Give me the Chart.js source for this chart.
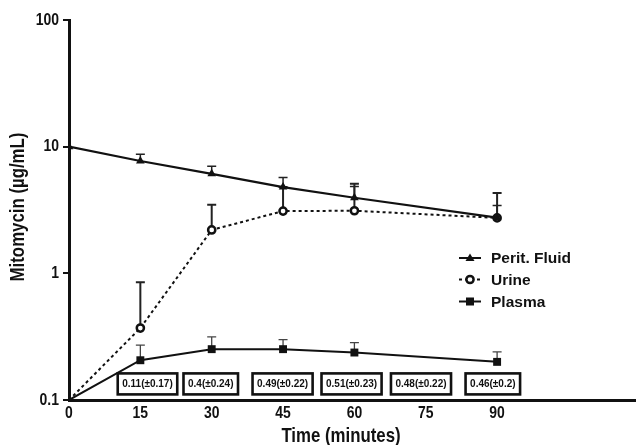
<!DOCTYPE html>
<html><head><meta charset="utf-8">
<script src="https://cdn.jsdelivr.net/npm/chart.js@4.4.1/dist/chart.umd.min.js"></script>
<style>html,body{margin:0;padding:0;background:#fff;overflow:hidden}</style>
</head><body>
<canvas id="c" width="636" height="445"></canvas>
<script>
// ---- data ----
const times = [0, 15, 30, 45, 60, 90];
const peritFluid = [10, 7.7, 6.1, 4.8, 3.95, 2.75];
const peritFluidUpper = [null, 8.7, 7.0, 5.7, 4.85, 3.43];
const urine = [0.1, 0.37, 2.2, 3.1, 3.12, 2.74];
const urineUpper = [null, 0.85, 3.48, 4.8, 5.1, 4.3];
const plasma = [0.1, 0.206, 0.252, 0.252, 0.237, 0.2];
const plasmaUpper = [null, 0.271, 0.315, 0.30, 0.284, 0.24];
const xTicks = [0, 15, 30, 45, 60, 75, 90];
const yTicks = [0.1, 1, 10, 100];
const boxLabels = ['0.11(\u00b10.17)', '0.4(\u00b10.24)', '0.49(\u00b10.22)', '0.51(\u00b10.23)', '0.48(\u00b10.22)', '0.46(\u00b10.2)'];
const boxTimes = [16.5, 29.8, 44.9, 59.4, 74, 89.1];
const boxLevel = 0.134;
const seriesNames = ['Perit. Fluid', 'Urine', 'Plasma'];
const xTitle = 'Time (minutes)';
const yTitle = 'Mitomycin (\u00b5g/mL)';

const INK = '#111';
const SANS = '"Liberation Sans", Arial, sans-serif';
const NARROW_X = 0.82; // horizontal squeeze to mimic the condensed face
const pts = arr => times.map((t, i) => ({x: t, y: arr[i]}));
const hideFirst = r => (ctx => ctx.dataIndex === 0 ? 0 : r);

function narrowText(ctx, text, x, y, size, align) {
  ctx.save();
  ctx.font = 'bold ' + size + 'px ' + SANS;
  ctx.textBaseline = 'middle';
  ctx.textAlign = align;
  ctx.translate(x, y);
  ctx.scale(NARROW_X, 1);
  ctx.fillStyle = INK;
  ctx.fillText(text, 0, 0);
  ctx.restore();
}

const errorBars = {
  id: 'errorBars',
  beforeDatasetsDraw(chart) {
    const ctx = chart.ctx, ys = chart.scales.y;
    chart.data.datasets.forEach((ds, i) => {
      const meta = chart.getDatasetMeta(i);
      ctx.save();
      ctx.strokeStyle = ds.errColor; ctx.lineWidth = ds.errWidth;
      meta.data.forEach((p, j) => {
        const up = ds.errUpper[j];
        if (up == null) return;
        const yt = ys.getPixelForValue(up);
        ctx.beginPath();
        ctx.moveTo(p.x, p.y); ctx.lineTo(p.x, yt);
        ctx.moveTo(p.x - 4.5, yt); ctx.lineTo(p.x + 4.5, yt);
        ctx.stroke();
      });
      ctx.restore();
    });
  }
};

const boxes = {
  id: 'boxes',
  afterDatasetsDraw(chart) {
    const ctx = chart.ctx, xs = chart.scales.x, ys = chart.scales.y;
    ctx.save();
    ctx.font = 'bold 10px ' + SANS;
    ctx.textAlign = 'center'; ctx.textBaseline = 'middle';
    boxLabels.forEach((lab, i) => {
      const cx = xs.getPixelForValue(boxTimes[i]);
      const cy = ys.getPixelForValue(boxLevel);
      const w = ctx.measureText(lab).width + 9, h = 21;
      ctx.fillStyle = '#fff';
      ctx.fillRect(cx - w / 2, cy - h / 2, w, h);
      ctx.lineWidth = 2.6; ctx.strokeStyle = INK;
      ctx.strokeRect(cx - w / 2, cy - h / 2, w, h);
      ctx.fillStyle = INK;
      ctx.fillText(lab, cx, cy + 0.5);
    });
    ctx.restore();
  }
};

function marker(ctx, style, x, y) {
  ctx.save();
  ctx.fillStyle = INK; ctx.strokeStyle = INK;
  if (style === 'triangle') {
    ctx.beginPath(); ctx.moveTo(x, y - 4.5); ctx.lineTo(x + 4.5, y + 3); ctx.lineTo(x - 4.5, y + 3); ctx.closePath(); ctx.fill();
  } else if (style === 'circle') {
    ctx.fillStyle = '#fff'; ctx.lineWidth = 2.5;
    ctx.beginPath(); ctx.arc(x, y, 3.6, 0, Math.PI * 2); ctx.fill(); ctx.stroke();
  } else {
    ctx.fillRect(x - 4, y - 4, 8, 8);
  }
  ctx.restore();
}

const extras = {
  id: 'extras',
  afterDraw(chart) {
    const ctx = chart.ctx, xs = chart.scales.x, ys = chart.scales.y;
    // tick labels
    xTicks.forEach(v => narrowText(ctx, String(v), xs.getPixelForValue(v), 413, 17, 'center'));
    yTicks.forEach(v => narrowText(ctx, String(v), 59, ys.getPixelForValue(v), 17, 'right'));
    // legend
    const items = [
      {name: seriesNames[0], style: 'triangle', dash: [], y: 258},
      {name: seriesNames[1], style: 'circle', dash: [3, 3], y: 279.5},
      {name: seriesNames[2], style: 'rect', dash: [], y: 301.5}
    ];
    items.forEach(it => {
      ctx.save();
      ctx.strokeStyle = INK; ctx.lineWidth = 2; ctx.setLineDash(it.dash);
      ctx.beginPath(); ctx.moveTo(459, it.y); ctx.lineTo(481, it.y); ctx.stroke();
      ctx.restore();
      marker(ctx, it.style, 470, it.y);
      ctx.save();
      ctx.fillStyle = INK; ctx.font = 'bold 15.5px ' + SANS;
      ctx.textAlign = 'left'; ctx.textBaseline = 'middle';
      ctx.fillText(it.name, 491, it.y + 1);
      ctx.restore();
    });
    // axis titles
    narrowText(ctx, xTitle, 341, 436, 20.5, 'center');
    ctx.save();
    ctx.translate(18, 207); ctx.rotate(-Math.PI / 2);
    narrowText(ctx, yTitle, 0, 0, 20.5, 'center');
    ctx.restore();
  }
};

new Chart(document.getElementById('c'), {
  type: 'line',
  data: {
    datasets: [
      {label: seriesNames[0], data: pts(peritFluid), errUpper: peritFluidUpper, errColor: '#222', errWidth: 1.5,
       borderColor: INK, backgroundColor: INK, borderWidth: 2.2, pointStyle: 'triangle', pointRadius: 5,
       pointBorderWidth: 0, pointBackgroundColor: INK, tension: 0},
      {label: seriesNames[1], data: pts(urine), errUpper: urineUpper, errColor: '#222', errWidth: 2,
       borderColor: INK, borderWidth: 2, borderDash: [3, 3], pointStyle: 'circle', pointRadius: hideFirst(3.6),
       pointBorderWidth: 2.5, pointBackgroundColor: '#fff', pointBorderColor: INK, tension: 0},
      {label: seriesNames[2], data: pts(plasma), errUpper: plasmaUpper, errColor: '#444', errWidth: 1.3,
       borderColor: INK, backgroundColor: INK, borderWidth: 2, pointStyle: 'rect', pointRadius: hideFirst(5.6),
       pointBorderWidth: 0, pointBackgroundColor: INK, tension: 0}
    ]
  },
  options: {
    responsive: false, animation: false, devicePixelRatio: 1,
    layout: {autoPadding: false, padding: {top: 20, right: 0, left: 0, bottom: 0}},
    plugins: {legend: {display: false}, tooltip: {enabled: false}},
    scales: {
      x: {
        type: 'linear', min: 0, max: 119.2,
        afterBuildTicks: s => { s.ticks = xTicks.map(v => ({value: v})); },
        afterFit: s => { s.height = 45; },
        grid: {display: false},
        border: {display: true, color: INK, width: 3},
        ticks: {display: false}
      },
      y: {
        type: 'logarithmic', min: 0.1, max: 100,
        afterBuildTicks: s => { s.ticks = yTicks.map(v => ({value: v})); },
        afterFit: s => { s.width = 69; },
        grid: {drawOnChartArea: false, drawTicks: true, tickLength: 6, color: INK, lineWidth: 2},
        border: {display: true, color: INK, width: 3},
        ticks: {display: false}
      }
    }
  },
  plugins: [errorBars, boxes, extras]
});
</script>
</body></html>
